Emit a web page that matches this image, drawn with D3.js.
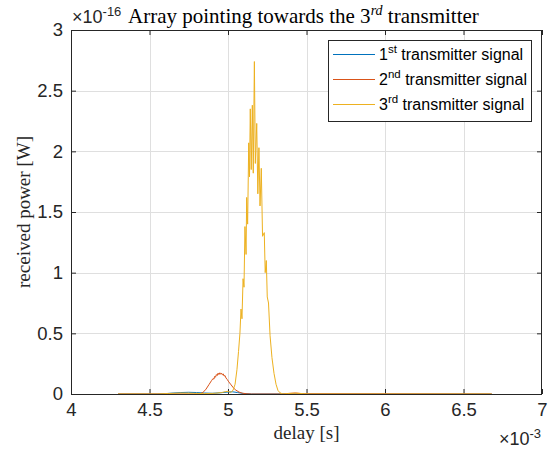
<!DOCTYPE html>
<html>
<head>
<meta charset="utf-8">
<script src="https://cdn.jsdelivr.net/npm/d3@7"></script>
<style>
  body { margin: 0; background: #fff; }
  svg { display: block; }
</style>
</head>
<body>
<svg id="chart" width="553" height="450"></svg>
<script>
// delay in units of 1e-3 s, received power in units of 1e-16 W
const xTicks = [4, 4.5, 5, 5.5, 6, 6.5, 7];
const yTicks = [0, 0.5, 1, 1.5, 2, 2.5, 3];

const seriesNames = ["1st transmitter signal", "2nd transmitter signal", "3rd transmitter signal"];
const seriesColors = ["#0072BD", "#D95319", "#EDB120"];

const blueDelay = [4.30, 4.55, 4.60, 4.65, 4.70, 4.75, 4.80, 4.85, 4.90, 4.95, 5.00, 5.03, 5.06, 5.10, 5.15, 6.68];
const bluePower = [0, 0, 0.003, 0.008, 0.012, 0.014, 0.012, 0.008, 0.006, 0.010, 0.016, 0.018, 0.012, 0.004, 0, 0];

const orangeDelay = [4.30, 4.80, 4.822, 4.840, 4.860, 4.880, 4.895, 4.905, 4.910, 4.915, 4.920, 4.926, 4.931, 4.937, 4.942, 4.948, 4.953, 4.959, 4.964, 4.970, 4.975, 4.981, 4.987, 4.995, 5.005, 5.020, 5.035, 5.050, 5.070, 5.090, 5.120, 5.150, 5.35, 5.38, 5.43, 5.48, 6.68];
const orangePower = [0, 0, 0.002, 0.012, 0.040, 0.080, 0.110, 0.128, 0.122, 0.145, 0.138, 0.160, 0.152, 0.172, 0.160, 0.175, 0.163, 0.172, 0.158, 0.165, 0.148, 0.152, 0.132, 0.120, 0.100, 0.075, 0.050, 0.032, 0.016, 0.007, 0.002, 0, 0, 0.004, 0.008, 0.002, 0];

const yellowDelay = [4.30, 4.55, 4.62, 4.70, 4.78, 4.85, 4.92, 4.96, 4.985, 5.000, 5.015, 5.032, 5.045, 5.057, 5.067, 5.076, 5.083, 5.089, 5.096, 5.102, 5.108, 5.115, 5.119, 5.125, 5.132, 5.137, 5.142, 5.148, 5.155, 5.161, 5.168, 5.174, 5.183, 5.190, 5.197, 5.204, 5.212, 5.220, 5.231, 5.237, 5.244, 5.250, 5.258, 5.268, 5.280, 5.293, 5.306, 5.318, 5.331, 5.350, 5.38, 5.43, 5.48, 5.52, 6.68];
const yellowPower = [0, 0, 0.004, 0.008, 0.006, 0.003, 0.006, 0.012, 0.020, 0.022, 0.012, 0.030, 0.080, 0.200, 0.350, 0.500, 0.700, 0.620, 0.950, 0.880, 1.380, 1.150, 1.620, 1.400, 2.070, 1.790, 2.350, 1.850, 2.380, 1.820, 2.740, 1.900, 2.230, 1.650, 2.030, 1.550, 1.860, 1.300, 1.330, 1.000, 1.100, 0.800, 0.750, 0.480, 0.300, 0.170, 0.080, 0.030, 0.010, 0, 0.004, 0.007, 0.003, 0, 0];

const series = [
  { name: seriesNames[0], color: seriesColors[0], pts: blueDelay.map((d, i) => [d, bluePower[i]]) },
  { name: seriesNames[1], color: seriesColors[1], pts: orangeDelay.map((d, i) => [d, orangePower[i]]) },
  { name: seriesNames[2], color: seriesColors[2], pts: yellowDelay.map((d, i) => [d, yellowPower[i]]) }
];

const axisColor = "#262626";
const gridColor = "#dfdfdf";
const sans = '"Liberation Sans", Arial, sans-serif';
const serif = '"Liberation Serif", "Times New Roman", serif';
const tickFont = 18.5;

const plotLeft = 71, plotRight = 542, plotTop = 30, plotBottom = 394;
const x = d3.scaleLinear().domain([4, 7]).range([plotLeft, plotRight]);
const y = d3.scaleLinear().domain([0, 3]).range([plotBottom, plotTop]);

const svg = d3.select("#chart");
svg.append("rect").attr("width", 553).attr("height", 450).attr("fill", "#fff");

// grid
const grid = svg.append("g");
grid.selectAll(".gx").data(xTicks.slice(1, -1)).join("line")
  .attr("x1", d => Math.round(x(d)) + 0.5).attr("x2", d => Math.round(x(d)) + 0.5)
  .attr("y1", plotTop).attr("y2", plotBottom)
  .attr("stroke", gridColor).attr("stroke-width", 1);
grid.selectAll(".gy").data(yTicks.slice(1, -1)).join("line")
  .attr("y1", d => Math.round(y(d)) + 0.5).attr("y2", d => Math.round(y(d)) + 0.5)
  .attr("x1", plotLeft).attr("x2", plotRight)
  .attr("stroke", gridColor).attr("stroke-width", 1);

// axes with inward ticks on all four sides
const tickLen = 5;
const xAxisB = d3.axisBottom(x).tickValues(xTicks).tickSizeInner(-tickLen).tickSizeOuter(0).tickPadding(9).tickFormat(d3.format("~g"));
const xAxisT = d3.axisTop(x).tickValues(xTicks).tickSizeInner(-tickLen).tickSizeOuter(0).tickFormat("");
const yAxisL = d3.axisLeft(y).tickValues(yTicks).tickSizeInner(-tickLen).tickSizeOuter(0).tickPadding(8).tickFormat(d3.format("~g"));
const yAxisR = d3.axisRight(y).tickValues(yTicks).tickSizeInner(-tickLen).tickSizeOuter(0).tickFormat("");

function styleAxis(g) {
  g.select(".domain").remove();
  g.selectAll(".tick line").attr("stroke", axisColor);
  g.selectAll(".tick text").attr("fill", axisColor).attr("font-size", tickFont).attr("font-family", sans);
}

svg.append("g").attr("transform", `translate(0,${plotBottom})`).call(xAxisB).call(styleAxis);
svg.append("g").attr("transform", `translate(0,${plotTop})`).call(xAxisT).call(styleAxis);
svg.append("g").attr("transform", `translate(${plotLeft},0)`).call(yAxisL).call(styleAxis);
svg.append("g").attr("transform", `translate(${plotRight},0)`).call(yAxisR).call(styleAxis);

// data lines
const line = d3.line().x(d => x(d[0])).y(d => y(d[1]));
const plot = svg.append("g");
series.forEach(s => {
  plot.append("path").datum(s.pts)
    .attr("d", line)
    .attr("fill", "none")
    .attr("stroke", s.color)
    .attr("stroke-width", 1)
    .attr("stroke-linejoin", "round");
});

// axes box
svg.append("rect")
  .attr("x", plotLeft + 0.5).attr("y", plotTop + 0.5)
  .attr("width", plotRight - plotLeft - 1).attr("height", plotBottom - plotTop)
  .attr("fill", "none").attr("stroke", axisColor).attr("stroke-width", 1);

// exponent labels
const expY = svg.append("text").attr("x", 72).attr("y", 23)
  .attr("font-family", sans).attr("font-size", 18).attr("fill", axisColor);
expY.append("tspan").text("×10");
expY.append("tspan").attr("dy", -7).attr("font-size", 13).text("-16");

const expX = svg.append("text").attr("x", 541).attr("y", 445).attr("text-anchor", "end")
  .attr("font-family", sans).attr("font-size", 18).attr("fill", axisColor);
expX.append("tspan").text("×10");
expX.append("tspan").attr("dy", -7).attr("font-size", 13).text("-3");

// title
const title = svg.append("text").attr("x", 128).attr("y", 23)
  .attr("font-family", serif).attr("font-size", 21).attr("fill", "#000");
title.append("tspan").text("Array pointing towards the 3");
title.append("tspan").attr("dy", -8).attr("font-size", 14).attr("font-style", "italic").text("rd");
title.append("tspan").attr("dy", 8).text(" transmitter");

// axis labels
svg.append("text").attr("x", (plotLeft + plotRight) / 2).attr("y", 439).attr("text-anchor", "middle")
  .attr("font-family", serif).attr("font-size", 19).attr("fill", axisColor)
  .text("delay [s]");
svg.append("text").attr("transform", `translate(30,${(plotTop + plotBottom) / 2}) rotate(-90)`)
  .attr("text-anchor", "middle")
  .attr("font-family", serif).attr("font-size", 19).attr("fill", axisColor)
  .text("received power [W]");

// legend
const lg = svg.append("g");
const lgX = 328, lgY = 40, lgW = 203, lgH = 81;
lg.append("rect").attr("x", lgX + 0.5).attr("y", lgY + 0.5).attr("width", lgW).attr("height", lgH)
  .attr("fill", "#fff").attr("stroke", axisColor).attr("stroke-width", 1);
const ordinals = [["1", "st"], ["2", "nd"], ["3", "rd"]];
series.forEach((s, i) => {
  const cy = 54 + i * 25;
  lg.append("line").attr("x1", 333).attr("x2", 375).attr("y1", cy + 0.5).attr("y2", cy + 0.5)
    .attr("stroke", s.color).attr("stroke-width", 1);
  const t = lg.append("text").attr("x", 379).attr("y", cy + 6)
    .attr("font-family", sans).attr("font-size", 16).attr("fill", "#000");
  t.append("tspan").text(ordinals[i][0]);
  t.append("tspan").attr("dy", -7).attr("font-size", 11.5).text(ordinals[i][1]);
  t.append("tspan").attr("dy", 7).text(" transmitter signal");
});
</script>
</body>
</html>
